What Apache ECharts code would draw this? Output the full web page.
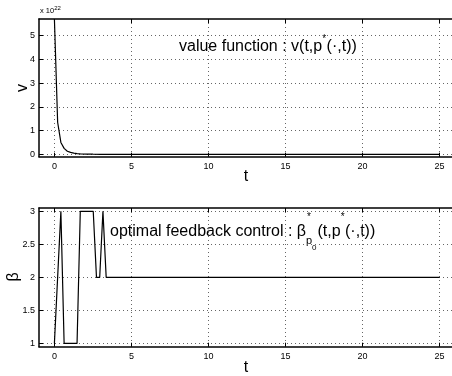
<!DOCTYPE html>
<html>
<head>
<meta charset="utf-8">
<script src="https://cdn.jsdelivr.net/npm/echarts@6/dist/echarts.min.js"></script>
<style>
html,body{margin:0;padding:0;background:#fff;}
#c{width:452px;height:376px;}
</style>
</head>
<body>
<div id="c"></div>
<script>
// value function v (units of 1e22)
const tValue = [0, 0.21, 0.42, 0.63, 0.84, 1.05, 1.26, 1.47, 1.68, 2.1, 2.5, 3, 4, 25];
const vValue = [5.7, 1.35, 0.5, 0.25, 0.13, 0.08, 0.05, 0.03, 0.02, 0.01, 0.005, 0.002, 0, 0];
// optimal feedback control beta
const tBeta = [0, 0.42, 0.63, 1.47, 1.68, 2.52, 2.73, 2.94, 3.15, 3.36, 25];
const beta = [1, 3, 1, 1, 3, 3, 2, 2, 3, 2, 2];
// ticks
const xTicks = [0, 5, 10, 15, 20, 25];
const vTicks = [0, 1, 2, 3, 4, 5];
const betaTicks = [1, 1.5, 2, 2.5, 3];

const FONT = '"Liberation Sans", Arial, Helvetica, sans-serif';
const chart = echarts.init(document.getElementById('c'), null, {renderer: 'canvas'});

const mctx = document.createElement('canvas').getContext('2d');
function tw(text, size) { mctx.font = size + 'px ' + FONT; return mctx.measureText(text).width; }
function txt(text, x, baseline, size) {
  return { type: 'text', x: x, y: baseline - 0.35 * size, style: { text: text, font: size + 'px ' + FONT, fill: '#000', verticalAlign: 'middle', align: 'left' } };
}
function axName(text, x, y, rot) {
  return { type: 'text', x: x, y: y, rotation: rot, style: { text: text, font: '16px ' + FONT, fill: '#000', align: 'center', verticalAlign: 'middle' } };
}

function buildTop() {
  const els = [];
  let x = 179, b = 52;
  const p1 = 'value function : v(t,p';
  els.push(txt(p1, x, b, 16)); x += tw(p1, 16);
  els.push(txt('*', x, 43, 10)); x += tw('*', 10) + 0.5;
  els.push(txt('(\u00b7,t))', x, b, 16));
  return els;
}
function buildBottom() {
  const els = [];
  let x = 110, b = 237;
  const p1 = 'optimal feedback control : \u03b2';
  els.push(txt(p1, x, b, 16)); x += tw(p1, 16);
  els.push(txt('*', x + 1, 221, 10));
  els.push(txt('p', x, 245, 11));
  const x0 = x + tw('p', 11);
  els.push(txt('0', x0, 251, 8));
  x = Math.max(x + tw('*', 10), x0 + tw('0', 8)) + 1;
  const p2 = '(t,p';
  els.push(txt(p2, x, b, 16)); x += tw(p2, 16);
  els.push(txt('*', x, 221, 10)); x += tw('*', 10) + 0.5;
  els.push(txt('(\u00b7,t))', x, b, 16));
  return els;
}

const lab = { color: '#000', fontSize: 9, fontFamily: FONT };
const split = { show: true, lineStyle: { color: '#666', type: [1, 3], width: 1 } };
const aLine = { show: true, onZero: false, lineStyle: { color: '#000', width: 1.5 } };
const tick = (vals) => ({ show: true, inside: true, length: 4, customValues: vals, lineStyle: { color: '#000', width: 1 } });

function xAxisBottom(gi) {
  return { type: 'value', gridIndex: gi, min: -1, max: 26, position: 'bottom',
    axisLine: aLine, axisTick: tick(xTicks), splitLine: split,
    axisLabel: Object.assign({ customValues: xTicks, margin: 5 }, lab) };
}
function xAxisTop(gi) {
  return { type: 'value', gridIndex: gi, min: -1, max: 26, position: 'top',
    axisLine: aLine, axisTick: tick(xTicks), splitLine: { show: false }, axisLabel: { show: false } };
}
function yAxis(gi, min, max, ticks) {
  return { type: 'value', gridIndex: gi, min: min, max: max, position: 'left',
    axisLine: aLine, axisTick: tick(ticks), splitLine: split,
    axisLabel: Object.assign({ customValues: ticks, margin: 4, formatter: (v) => String(v) }, lab) };
}

const option = {
  backgroundColor: '#fff',
  animation: false,
  grid: [
    { left: 39, top: 19, width: 416, height: 137.7, show: false, containLabel: false, outerBoundsMode: 'none' },
    { left: 39, top: 208, width: 416, height: 138.7, show: false, containLabel: false, outerBoundsMode: 'none' }
  ],
  xAxis: [xAxisBottom(0), xAxisTop(0), xAxisBottom(1), xAxisTop(1)],
  yAxis: [yAxis(0, -0.1, 5.7, vTicks), yAxis(1, 0.95, 3.05, betaTicks)],
  series: [
    { type: 'line', xAxisIndex: 0, yAxisIndex: 0, showSymbol: false, symbol: 'none',
      data: tValue.map((t, i) => [t, vValue[i]]), lineStyle: { color: '#000', width: 1.2 } },
    { type: 'line', xAxisIndex: 2, yAxisIndex: 1, showSymbol: false, symbol: 'none',
      data: tBeta.map((t, i) => [t, beta[i]]), lineStyle: { color: '#000', width: 1.2 } }
  ],
  graphic: [
    { type: 'text', x: 40, y: 11, style: { text: 'x 10{s|22}', font: '7.5px ' + FONT, fill: '#000', verticalAlign: 'middle',
      rich: { s: { fontSize: 6, fontFamily: FONT, verticalAlign: 'bottom', padding: [0, 0, 5, 0] } } } },
    axName('t', 246, 176.5, 0),
    axName('t', 246, 368, 0),
    axName('v', 22.5, 88, Math.PI / 2),
    axName('\u03b2', 13.5, 277, Math.PI / 2)
  ].concat(buildTop(), buildBottom())
};
chart.setOption(option);
</script>
</body>
</html>
